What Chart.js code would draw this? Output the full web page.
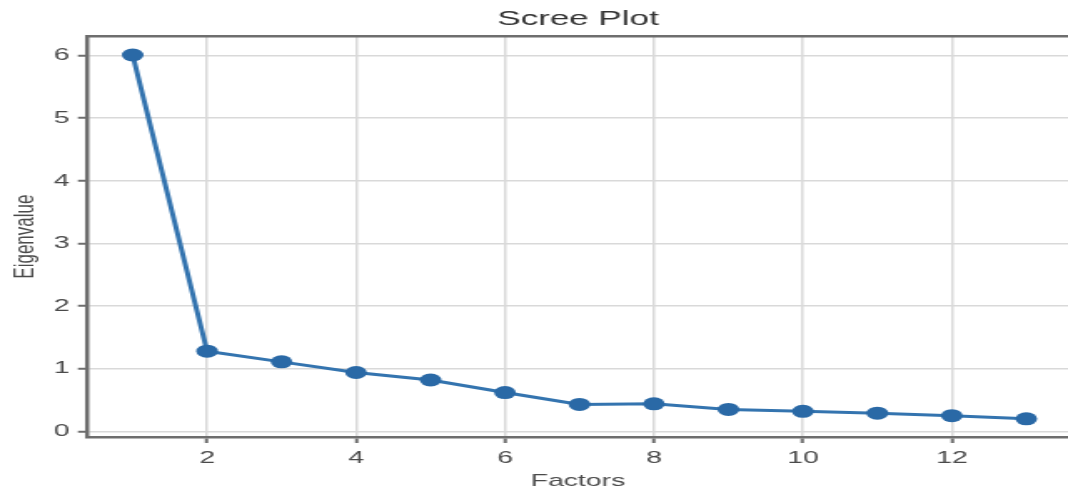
<!DOCTYPE html>
<html>
<head>
<meta charset="utf-8">
<title>Scree Plot</title>
<script src="https://cdn.jsdelivr.net/npm/chart.js@4/dist/chart.umd.min.js"></script>
<style>
  html, body { margin: 0; padding: 0; background: #ffffff; overflow: hidden; }
  /* the figure is drawn at 640 px wide and stretched to the 1068 px page */
  #frame { width: 640px; height: 490px; transform: scaleX(1.66875); transform-origin: 0 0; }
  #scree { display: block; }
</style>
</head>
<body>
<div id="frame"><canvas id="scree" width="640" height="490"></canvas></div>
<script>
// Factor number and its eigenvalue
const factors = [1, 2, 3, 4, 5, 6, 7, 8, 9, 10, 11, 12, 13];
const eigenvalues = [6.01, 1.28, 1.11, 0.94, 0.82, 0.62, 0.43, 0.44, 0.35, 0.32, 0.29, 0.25, 0.20];

// Tick values on each axis
const xTicks = [2, 4, 6, 8, 10, 12];
const yTicks = [0, 1, 2, 3, 4, 5, 6];

const FONT = "'Liberation Sans', Arial, sans-serif";
const SPINE = '#6e6e6e';
const GRID = '#d9d9d9';

// top frame line of the plotting area
const topSpine = {
  id: 'topSpine',
  afterDraw(chart) {
    const { ctx, chartArea } = chart;
    ctx.save();
    ctx.strokeStyle = SPINE;
    ctx.lineWidth = 2.5;
    ctx.beginPath();
    ctx.moveTo(chartArea.left - 1.25, chartArea.top);
    ctx.lineTo(chart.width, chartArea.top);
    ctx.stroke();
    ctx.restore();
  }
};

new Chart(document.getElementById('scree'), {
  type: 'line',
  data: {
    datasets: [{
      label: 'Eigenvalue',
      data: factors.map((f, i) => ({ x: f, y: eigenvalues[i] })),
      borderColor: '#3474af',
      backgroundColor: '#2a69a6',
      borderWidth: 3,
      pointRadius: 6.5,
      pointHoverRadius: 6.5,
      pointBorderWidth: 0,
      pointBackgroundColor: '#2a69a6',
      tension: 0,
      fill: false,
      clip: false
    }]
  },
  options: {
    responsive: false,
    animation: false,
    devicePixelRatio: 1,
    layout: { padding: 0, autoPadding: false },
    plugins: {
      legend: { display: false },
      tooltip: { enabled: false },
      title: {
        display: true,
        fullSize: false,
        text: 'Scree Plot',
        color: '#333333',
        font: { family: FONT, size: 21, weight: 'normal' },
        padding: { top: 7, bottom: 4 }
      }
    },
    scales: {
      x: {
        type: 'linear',
        min: 0.4,
        max: 13.56,
        afterBuildTicks(scale) { scale.ticks = xTicks.map(v => ({ value: v })); },
        afterFit(scale) {
          scale.height = 53;
          scale.paddingLeft = 0;
          scale.paddingRight = 0;
        },
        ticks: {
          color: '#4a4a4a',
          font: { family: FONT, size: 17 },
          padding: 5,
          maxRotation: 0,
          callback: v => String(v)
        },
        grid: {
          color: GRID,
          lineWidth: 1.5,
          drawTicks: true,
          tickLength: 6,
          tickColor: SPINE,
          tickWidth: 2
        },
        border: { display: true, color: SPINE, width: 2.5 },
        title: {
          display: true,
          text: 'Factors',
          color: '#4a4a4a',
          font: { family: FONT, size: 17, lineHeight: 1 },
          padding: { top: 0, bottom: 0 }
        }
      },
      y: {
        type: 'linear',
        min: -0.09,
        max: 6.31,
        afterBuildTicks(scale) { scale.ticks = yTicks.map(v => ({ value: v })); },
        afterFit(scale) {
          scale.width = 52.7;
          scale.paddingTop = 0;
          scale.paddingBottom = 0;
        },
        ticks: {
          color: '#4a4a4a',
          font: { family: FONT, size: 17 },
          padding: 5,
          callback: v => String(v)
        },
        grid: {
          color: GRID,
          lineWidth: 1.5,
          drawTicks: true,
          tickLength: 6,
          tickColor: SPINE,
          tickWidth: 2
        },
        border: { display: true, color: SPINE, width: 2.5 },
        title: {
          display: true,
          text: 'Eigenvalue',
          color: '#4a4a4a',
          font: { family: FONT, size: 17 },
          padding: { top: 5, bottom: 0 }
        }
      }
    }
  },
  plugins: [topSpine]
});
</script>
</body>
</html>
